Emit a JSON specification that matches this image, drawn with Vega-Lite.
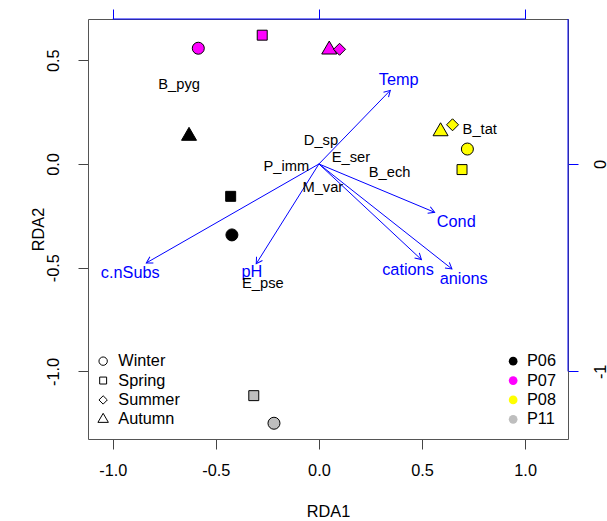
{
  "$schema": "https://vega.github.io/schema/vega-lite/v6.json",
  "width": 480,
  "height": 420,
  "autosize": "none",
  "padding": {"left": 88, "top": 19, "right": 39, "bottom": 82},
  "background": "white",
  "config": {
    "font": "Liberation Sans",
    "view": {"stroke": null},
    "axis": {
      "grid": false,
      "domain": true,
      "domainColor": "#555555",
      "domainWidth": 1,
      "tickColor": "#444444",
      "tickSize": 10,
      "labelFontSize": 16.3,
      "labelColor": "black",
      "titleFontSize": 16.3,
      "titleFontWeight": "normal",
      "titleColor": "black",
      "labelFlush": false,
      "labelOverlap": false
    },
    "axisTop": {"tickColor": "blue"},
    "axisRight": {"tickColor": "blue"}
  },
  "datasets": {
    "sites": [
      {"site": "P07", "season": "Winter", "RDA1": -0.585, "RDA2": 0.558},
      {"site": "P07", "season": "Spring", "RDA1": -0.275, "RDA2": 0.621},
      {"site": "P07", "season": "Autumn", "RDA1": 0.05, "RDA2": 0.551},
      {"site": "P07", "season": "Summer", "RDA1": 0.1, "RDA2": 0.553},
      {"site": "P06", "season": "Autumn", "RDA1": -0.63, "RDA2": 0.135},
      {"site": "P06", "season": "Spring", "RDA1": -0.428, "RDA2": -0.156},
      {"site": "P06", "season": "Winter", "RDA1": -0.422, "RDA2": -0.342},
      {"site": "P08", "season": "Autumn", "RDA1": 0.59, "RDA2": 0.157},
      {"site": "P08", "season": "Summer", "RDA1": 0.648, "RDA2": 0.189},
      {"site": "P08", "season": "Winter", "RDA1": 0.72, "RDA2": 0.072},
      {"site": "P08", "season": "Spring", "RDA1": 0.694, "RDA2": -0.027},
      {"site": "P11", "season": "Spring", "RDA1": -0.316, "RDA2": -1.117},
      {"site": "P11", "season": "Winter", "RDA1": -0.218, "RDA2": -1.25}
    ],
    "species": [
      {"sp": "B_pyg", "RDA1": -0.678, "RDA2": 0.382},
      {"sp": "D_sp", "RDA1": 0.01, "RDA2": 0.109},
      {"sp": "E_ser", "RDA1": 0.155, "RDA2": 0.029},
      {"sp": "P_imm", "RDA1": -0.158, "RDA2": -0.014},
      {"sp": "M_var", "RDA1": 0.019, "RDA2": -0.116},
      {"sp": "B_ech", "RDA1": 0.343, "RDA2": -0.043},
      {"sp": "B_tat", "RDA1": 0.78, "RDA2": 0.165},
      {"sp": "E_pse", "RDA1": -0.272, "RDA2": -0.577}
    ],
    "env": [
      {"var": "Temp", "x": 0.346, "y": 0.355, "lx": 0.387, "ly": 0.403},
      {"var": "Cond", "x": 0.561, "y": -0.233, "lx": 0.666, "ly": -0.28},
      {"var": "cations", "x": 0.497, "y": -0.461, "lx": 0.432, "ly": -0.51},
      {"var": "anions", "x": 0.645, "y": -0.506, "lx": 0.702, "ly": -0.553},
      {"var": "c.nSubs", "x": -0.837, "y": -0.477, "lx": -0.915, "ly": -0.526},
      {"var": "pH", "x": -0.304, "y": -0.481, "lx": -0.325, "ly": -0.523}
    ]
  },
  "layer": [
    {
      "mark": {"type": "rule", "stroke": "#333333", "strokeWidth": 1, "strokeDash": [1, 3]},
      "encoding": {
        "x": {
          "datum": 0, "type": "quantitative",
          "scale": {"domain": [-1.12, 1.208], "nice": false, "zero": false},
          "axis": {
            "orient": "bottom", "values": [-1, -0.5, 0, 0.5, 1], "format": ".1f",
            "labelExpr": "replace(datum.label, '\u2212', '-')",
            "labelPadding": 26, "labelBaseline": "alphabetic",
            "title": "RDA1", "titleY": 77, "titleBaseline": "alphabetic"
          }
        }
      }
    },
    {
      "mark": {"type": "rule", "stroke": "#333333", "strokeWidth": 1, "strokeDash": [1, 3]},
      "encoding": {
        "y": {
          "datum": 0, "type": "quantitative",
          "scale": {"domain": [-1.326, 0.699], "nice": false, "zero": false},
          "axis": {
            "orient": "left", "values": [-1, -0.5, 0, 0.5], "format": ".1f",
            "labelExpr": "replace(datum.label, '\u2212', '-')",
            "labelAngle": -90, "labelAlign": "center", "labelBaseline": "alphabetic",
            "labelPadding": 20,
            "title": "RDA2", "titleAngle": -90, "titleX": -45, "titleBaseline": "alphabetic"
          }
        }
      }
    },
    {
      "data": {"values": [{}]},
      "mark": {"type": "rule", "stroke": "blue", "strokeWidth": 1},
      "encoding": {
        "x": {
          "datum": -1, "type": "quantitative",
          "scale": {"domain": [-1.12, 1.208], "nice": false, "zero": false},
          "axis": {"orient": "top", "values": [-1, 0, 1], "labels": false, "tickColor": "blue", "tickSize": 10, "title": null}
        },
        "x2": {"datum": 1},
        "y": {
          "datum": 0.699, "type": "quantitative",
          "scale": {"domain": [-1.326, 0.699], "nice": false, "zero": false},
          "axis": null
        }
      }
    },
    {
      "data": {"values": [{}]},
      "mark": {"type": "rule", "stroke": "blue", "strokeWidth": 1},
      "encoding": {
        "x": {
          "datum": 1.208, "type": "quantitative",
          "scale": {"domain": [-1.12, 1.208], "nice": false, "zero": false},
          "axis": null
        },
        "y": {
          "datum": -1, "type": "quantitative",
          "scale": {"domain": [-1.326, 0.699], "nice": false, "zero": false},
          "axis": {
            "orient": "right", "values": [-1, 0], "format": "d",
            "labelExpr": "replace(datum.label, '\u2212', '-')",
            "tickColor": "blue", "tickSize": 10,
            "labelAngle": -90, "labelAlign": "center", "labelBaseline": "alphabetic",
            "labelPadding": 27, "title": null
          }
        },
        "y2": {"datum": 0.699}
      }
    },
    {
      "data": {"name": "env"},
      "mark": {"type": "rule", "stroke": "blue", "strokeWidth": 1},
      "encoding": {
        "x": {"field": "x", "type": "quantitative", "scale": {"domain": [-1.12, 1.208], "nice": false, "zero": false}, "axis": null},
        "x2": {"datum": 0},
        "y": {"field": "y", "type": "quantitative", "scale": {"domain": [-1.326, 0.699], "nice": false, "zero": false}, "axis": null},
        "y2": {"datum": 0}
      }
    },
    {
      "data": {"name": "env"},
      "transform": [{"calculate": "atan2(datum.x, datum.y) * 180 / PI", "as": "ang"}],
      "mark": {
        "type": "point", "filled": false, "stroke": "blue", "strokeWidth": 1, "size": 64, "opacity": 1,
        "shape": "M-0.875,1.52L0,0L0.875,1.52"
      },
      "encoding": {
        "x": {"field": "x", "type": "quantitative", "scale": {"domain": [-1.12, 1.208], "nice": false, "zero": false}, "axis": null},
        "y": {"field": "y", "type": "quantitative", "scale": {"domain": [-1.326, 0.699], "nice": false, "zero": false}, "axis": null},
        "angle": {"field": "ang", "type": "quantitative", "scale": null}
      }
    },
    {
      "data": {"name": "env"},
      "mark": {"type": "text", "color": "blue", "fontSize": 16.3, "align": "center", "baseline": "middle"},
      "encoding": {
        "x": {"field": "lx", "type": "quantitative", "scale": {"domain": [-1.12, 1.208], "nice": false, "zero": false}, "axis": null},
        "y": {"field": "ly", "type": "quantitative", "scale": {"domain": [-1.326, 0.699], "nice": false, "zero": false}, "axis": null},
        "text": {"field": "var", "type": "nominal"}
      }
    },
    {
      "data": {"name": "species"},
      "mark": {"type": "text", "color": "black", "fontSize": 14.7, "align": "center", "baseline": "middle"},
      "encoding": {
        "x": {"field": "RDA1", "type": "quantitative", "scale": {"domain": [-1.12, 1.208], "nice": false, "zero": false}, "axis": null},
        "y": {"field": "RDA2", "type": "quantitative", "scale": {"domain": [-1.326, 0.699], "nice": false, "zero": false}, "axis": null},
        "text": {"field": "sp", "type": "nominal"}
      }
    },
    {
      "data": {"name": "sites"},
      "mark": {"type": "point", "filled": true, "stroke": "black", "strokeWidth": 1, "size": 144, "opacity": 1},
      "encoding": {
        "x": {"field": "RDA1", "type": "quantitative", "scale": {"domain": [-1.12, 1.208], "nice": false, "zero": false}, "axis": null},
        "y": {"field": "RDA2", "type": "quantitative", "scale": {"domain": [-1.326, 0.699], "nice": false, "zero": false}, "axis": null},
        "shape": {
          "field": "season", "type": "nominal",
          "scale": {
            "domain": ["Winter", "Spring", "Summer", "Autumn"],
            "range": ["circle", "M-0.83,-0.83H0.83V0.83H-0.83Z", "diamond", "M0,-1.44L1.25,0.72L-1.25,0.72Z"]
          },
          "legend": {
            "orient": "none", "legendX": 7, "legendY": 334, "title": null,
            "labelFontSize": 16.3, "labelColor": "black", "symbolSize": 70, "labelOffset": 7,
            "rowPadding": 2.4, "padding": 0,
            "symbolFillColor": "transparent", "symbolStrokeColor": "black", "symbolStrokeWidth": 1
          }
        },
        "fill": {
          "field": "site", "type": "nominal",
          "scale": {"domain": ["P06", "P07", "P08", "P11"], "range": ["black", "#FF00FF", "#FFFF00", "#BEBEBE"]},
          "legend": {
            "orient": "none", "legendX": 417, "legendY": 334, "title": null,
            "labelFontSize": 16.3, "labelColor": "black", "symbolType": "circle", "symbolSize": 76,
            "labelOffset": 5.7, "rowPadding": 2.4, "padding": 0,
            "symbolStrokeColor": "transparent", "symbolStrokeWidth": 0
          }
        }
      }
    }
  ],
  "resolve": {"axis": {"x": "independent", "y": "independent"}}
}
